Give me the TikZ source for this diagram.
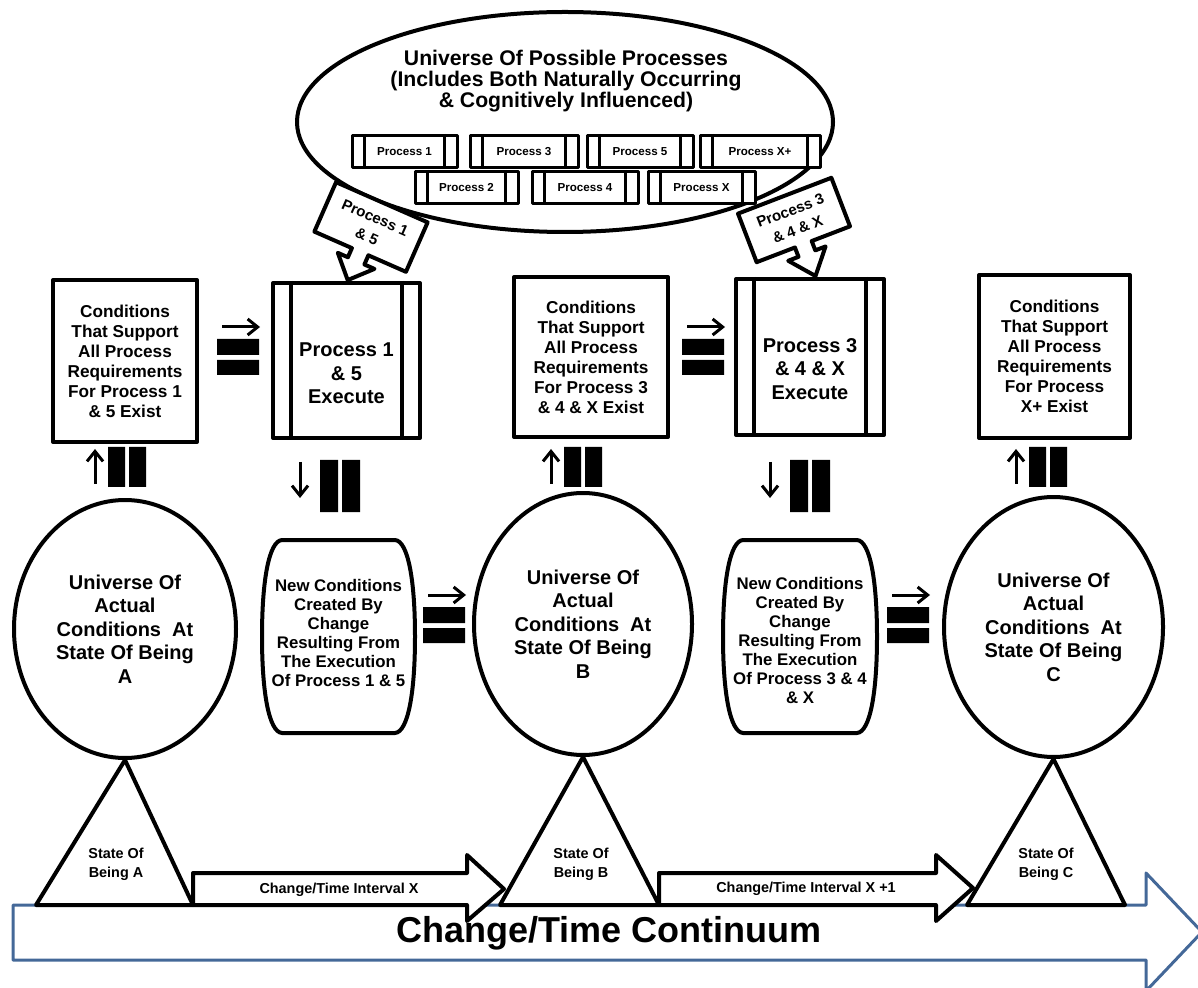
\documentclass[tikz,border=0pt]{standalone}
\usepackage{fontspec}
\setmainfont{Liberation Sans}
\usetikzlibrary{positioning,
                arrows.meta,                % arrow tips
                shapes.geometric}           % ellipse nodes

\definecolor{timeblue}{RGB}{68,104,152}

\tikzset{
  bold line/.style={line width=2pt},
  condbox/.style={draw, bold line, fill=white, align=center,
                  font=\fontsize{8.6}{10}\selectfont\bfseries},
  execbox/.style={draw, bold line, fill=white},
  exectxt/.style={align=center, font=\fontsize{10}{11.7}\selectfont\bfseries},
  stateell/.style={ellipse, draw, bold line, fill=white, align=center, inner sep=0pt,
                   font=\fontsize{10}{11.75}\selectfont\bfseries},
  newtxt/.style={align=center, font=\fontsize{8.4}{9.5}\selectfont\bfseries},
  procsmall/.style={draw, line width=1.5pt, fill=white, minimum height=16pt,
                    font=\fontsize{5.8}{7}\selectfont\bfseries},
  callouttxt/.style={align=center, inner sep=1pt, font=\fontsize{7.5}{10.2}\selectfont\bfseries},
  smalltxt/.style={align=center, font=\fontsize{7.2}{9.5}\selectfont\bfseries},
  glypharrow/.style={-{Straight Barb[length=5pt,width=8pt]}, line width=1.5pt},
}

\begin{document}
\begin{tikzpicture}[x=0.5pt, y=-0.5pt, line join=round]
    \useasboundingbox (0,0) rectangle (1198,988);

    % change/time continuum
    \draw[draw=timeblue, line width=1.5pt] (13,905) -- (1146,905) -- (1146,873) -- (1202,932)
        -- (1146,991) -- (1146,960) -- (13,960) -- cycle;
    \node[font=\fontsize{18}{20}\selectfont\bfseries] (continuum) at (609,933) {Change/Time Continuum};

    % universe of possible processes
    \node[ellipse, draw, bold line, minimum width=268pt, minimum height=110pt] (possible) at (565,122) {};
    \node[exectxt, font=\fontsize{10.6}{10.3}\selectfont\bfseries] (possibletxt) at (566,81)
        {Universe Of Possible Processes\\(Includes Both Naturally Occurring\\\& Cognitively Influenced)};

    \foreach \lbl/\cx/\cy/\w [count=\i] in {1/404.5/151.5/52.5, 3/524/151.5/54, 5/640/151.5/53,
                                            X+/760/151.5/60, 2/466.5/187.5/51.5, 4/585/187.5/53,
                                            X/701.5/187.5/53.5}{
        \node[procsmall, minimum width=\w pt] (proc\i) at (\cx,\cy) {Process \lbl};
        \draw[line width=1.5pt] ([xshift=7pt]proc\i.north west) -- ([xshift=7pt]proc\i.south west)
            ([xshift=-7pt]proc\i.north east) -- ([xshift=-7pt]proc\i.south east);
    }

    % picked processes
    \begin{scope}[shift={(371,227)}, rotate=-23.7]
        \draw[bold line, fill=white] (-50,-27) -- (50,-27) -- (50,27) -- (9,27) -- (9,37) -- (20,37)
            -- (0,58) -- (-20,37) -- (-9,37) -- (-9,27) -- (-50,27) -- cycle;
    \end{scope}
    \node[callouttxt, rotate=-23.7] (pickA) at (371,227) {Process 1\\\& 5};

    \begin{scope}[shift={(794,220)}, rotate=21]
        \draw[bold line, fill=white] (-50,-26) -- (50,-26) -- (50,26) -- (9,26) -- (9,36) -- (20,36)
            -- (0,60) -- (-20,36) -- (-9,36) -- (-9,26) -- (-50,26) -- cycle;
    \end{scope}
    \node[callouttxt, rotate=21] (pickB) at (794,220) {Process 3\\\& 4 \& X};

    % conditions that support the processes
    \node[condbox, minimum width=72pt, minimum height=81pt] (condA) at (125,361)
        {Conditions\\That Support\\All Process\\Requirements\\For Process 1\\\& 5 Exist};
    \node[condbox, minimum width=77pt, minimum height=80pt] (condB) at (591,357)
        {Conditions\\That Support\\All Process\\Requirements\\For Process 3\\\& 4 \& X Exist};
    \node[condbox, minimum width=75.5pt, minimum height=81.5pt] (condC) at (1054.5,356.5)
        {Conditions\\That Support\\All Process\\Requirements\\For Process\\X+ Exist};

    % executing processes
    \node[execbox, minimum width=73.5pt, minimum height=77.5pt] (execA) at (346.5,360.5) {};
    \node[execbox, minimum width=74pt, minimum height=78pt] (execB) at (810,357) {};
    \foreach \e in {execA, execB}
        \draw[bold line] ([xshift=10pt]\e.north west) -- ([xshift=10pt]\e.south west)
            ([xshift=-10pt]\e.north east) -- ([xshift=-10pt]\e.south east);
    \node[exectxt] (execAtxt) at ([yshift=-6.5pt]execA.center) {Process 1\\\& 5\\Execute};
    \node[exectxt] (execBtxt) at ([yshift=-6pt]execB.center) {Process 3\\\& 4 \& X\\Execute};

    % states of being
    \node[stateell, minimum width=111pt, minimum height=129pt] (ellA) at (125,629)
        {Universe Of\\Actual\\Conditions\ \ At\\State Of Being\\A};
    \node[stateell, minimum width=109pt, minimum height=131pt] (ellB) at (583,624)
        {Universe Of\\Actual\\Conditions\ \ At\\State Of Being\\B};
    \node[stateell, minimum width=109.5pt, minimum height=130pt] (ellC) at (1053.5,627)
        {Universe Of\\Actual\\Conditions\ \ At\\State Of Being\\C};

    % new conditions
    \foreach \l/\r in {262/415, 723/877}
        \draw[bold line, fill=white] (\l+20,540) -- (\r-20,540) .. controls (\r-7,541) and (\r,580) .. (\r,636.5)
            .. controls (\r,693) and (\r-7,732) .. (\r-20,733) -- (\l+20,733)
            .. controls (\l+7,732) and (\l,693) .. (\l,636.5) .. controls (\l,580) and (\l+7,541) .. (\l+20,540) -- cycle;
    \node[newtxt] (newA) at (338.5,633) {New Conditions\\Created By\\Change\\Resulting From\\The Execution\\Of Process 1 \& 5};
    \node[newtxt] (newB) at (800,640) {New Conditions\\Created By\\Change\\Resulting From\\The Execution\\Of Process 3 \& 4\\\& X};

    % leads to / equals
    \foreach \gx/\gy in {217/327, 682/327, 423/595, 887/595}{
        \draw[glypharrow] (\gx+5,\gy) -- (\gx+43,\gy);
        \fill (\gx,\gy+12) rectangle (\gx+42,\gy+28) (\gx,\gy+33) rectangle (\gx+42,\gy+48);
    }
    \foreach \gx in {95, 551, 1016}{
        \draw[glypharrow] (\gx,484) -- (\gx,449);
        \fill (\gx+13,447) rectangle (\gx+30,487) (\gx+34,447) rectangle (\gx+51,487);
    }
    \foreach \gx in {300, 770}{
        \draw[glypharrow] (\gx,462) -- (\gx,498);
        \fill (\gx+20,460) rectangle (\gx+38,512) (\gx+42,460) rectangle (\gx+60,512);
    }

    % triangles
    \draw[bold line, fill=white] (ellA.south) -- (193,905) -- (36,905) -- cycle;
    \draw[bold line, fill=white] (ellB.south) -- (659,905) -- (500,905) -- cycle;
    \draw[bold line, fill=white] (ellC.south) -- (1125,905) -- (967,905) -- cycle;
    \node[smalltxt] (stateA) at (116,864) {State Of\\Being A};
    \node[smalltxt] (stateB) at (581,864) {State Of\\Being B};
    \node[smalltxt] (stateC) at (1046,864) {State Of\\Being C};

    % intervals
    \draw[bold line, fill=white] (193,873) -- (467,873) -- (467,855) -- (504,889) -- (467,921)
        -- (467,905) -- (193,905) -- cycle;
    \draw[bold line, fill=white] (659,873) -- (936,873) -- (936,855) -- (973,888) -- (936,921)
        -- (936,905) -- (659,905) -- cycle;
    \node[smalltxt] (intX) at (339,890) {Change/Time Interval X};
    \node[smalltxt] (intXp) at (806,889) {Change/Time Interval X +1};

\end{tikzpicture}
\end{document}
